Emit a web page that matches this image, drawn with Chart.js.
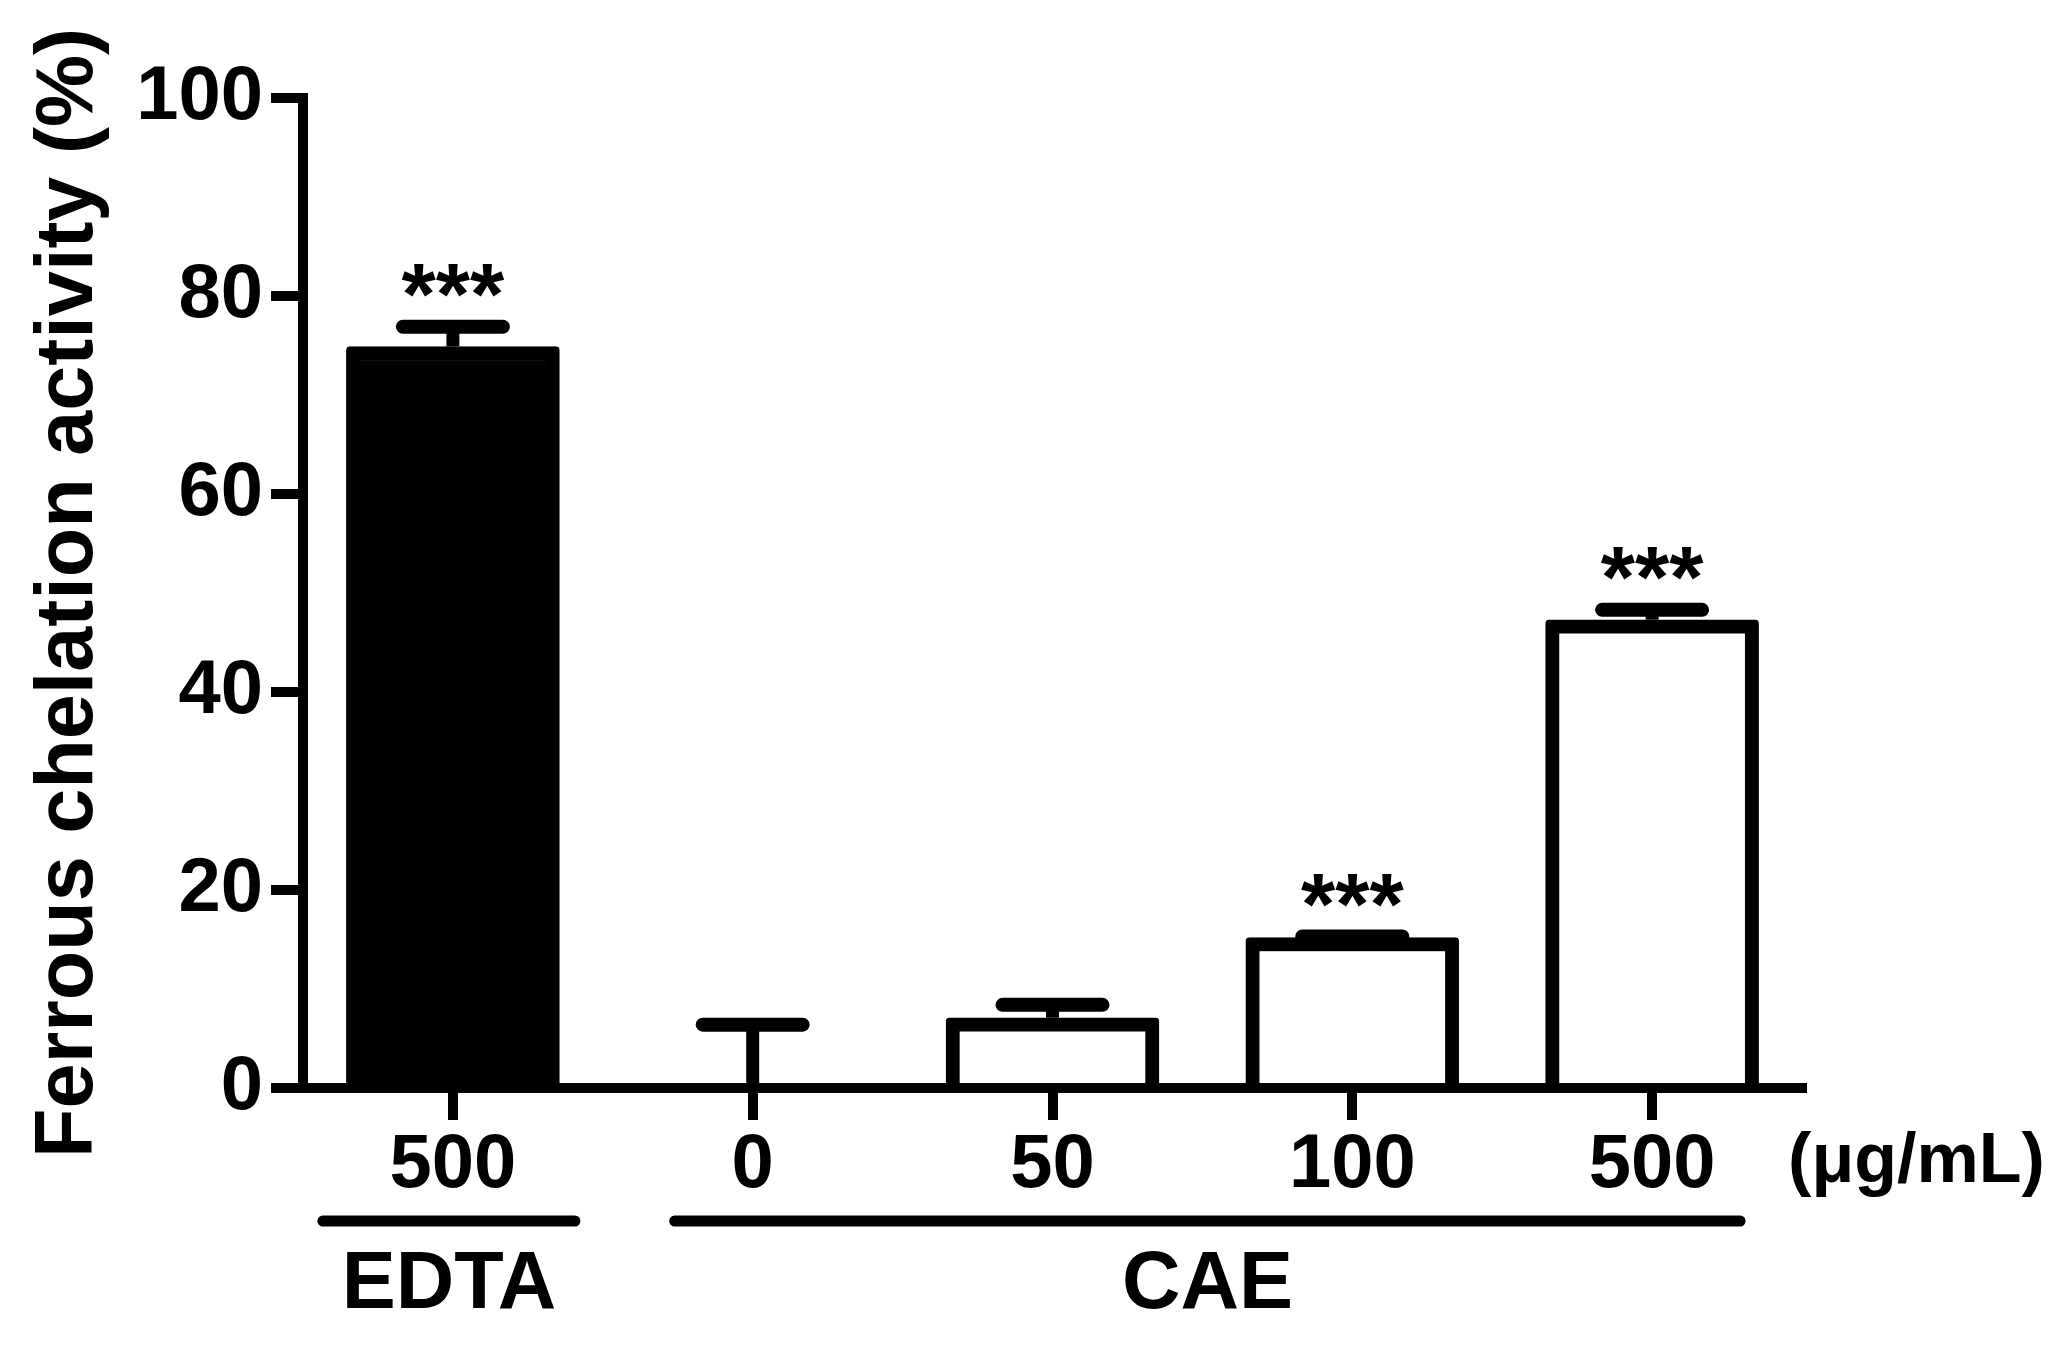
<!DOCTYPE html>
<html>
<head>
<meta charset="utf-8">
<script src="https://cdn.jsdelivr.net/npm/chart.js@4.4.0/dist/chart.umd.min.js"></script>
<style>
  html, body { margin: 0; padding: 0; background: #fff; }
  #wrap { width: 2057px; height: 1345px; position: relative; }
</style>
</head>
<body>
<div id="wrap"><canvas id="myChart"></canvas></div>
<script>
// data
var labels = ['500', '0', '50', '100', '500'];
var means = [74.9, 0, 7.1, 15.2, 47.3];
var sems = [2.0, 6.4, 1.3, 0.1, 1.0];
var stars = ['***', '', '', '***', '***'];
var fills = ['#000000', '#ffffff', '#ffffff', '#ffffff', '#ffffff'];
var groupNames = ['EDTA', 'CAE'];
var groupFirst = [0, 1];
var groupLast = [0, 4];
var yTicks = [0, 20, 40, 60, 80, 100];
var unitLabel = '(\u03bcg/mL)';
var yTitle = 'Ferrous chelation activity (%)';

var FONT = '"Liberation Sans", Arial, Helvetica, sans-serif';

// error bars, stars, group lines and labels
var extras = {
  id: 'extras',
  afterDatasetsDraw: function(chart) {
    var ctx = chart.ctx;
    var xs = chart.scales.x, ys = chart.scales.y;
    var bottom = chart.chartArea.bottom;
    ctx.save();
    ctx.strokeStyle = '#000';
    ctx.fillStyle = '#000';
    for (var i = 0; i < means.length; i++) {
      var px = xs.getPixelForValue(i);
      var yb = ys.getPixelForValue(means[i]);
      var yt = ys.getPixelForValue(means[i] + sems[i]);
      ctx.lineWidth = 13;
      ctx.lineCap = 'butt';
      ctx.beginPath();
      ctx.moveTo(px, yb);
      ctx.lineTo(px, yt);
      ctx.stroke();
      ctx.lineWidth = 14;
      ctx.lineCap = 'round';
      ctx.beginPath();
      ctx.moveTo(px - 50, yt);
      ctx.lineTo(px + 50, yt);
      ctx.stroke();
      if (stars[i]) {
        ctx.font = 'bold 88px ' + FONT;
        ctx.textAlign = 'center';
        ctx.textBaseline = 'alphabetic';
        ctx.fillText(stars[i], px, yt - 3);
      }
    }

    // group underlines
    var lineL = [-130, -78];
    var lineR = [122, 88];
    ctx.lineWidth = 11;
    ctx.lineCap = 'round';
    ctx.font = 'bold 81px ' + FONT;
    ctx.textAlign = 'center';
    ctx.textBaseline = 'middle';
    for (var g = 0; g < groupNames.length; g++) {
      var x1 = xs.getPixelForValue(groupFirst[g]) + lineL[g];
      var x2 = xs.getPixelForValue(groupLast[g]) + lineR[g];
      ctx.beginPath();
      ctx.moveTo(x1, bottom + 133);
      ctx.lineTo(x2, bottom + 133);
      ctx.stroke();
      ctx.fillText(groupNames[g], (x1 + x2) / 2, bottom + 198);
    }

    // unit
    ctx.font = 'bold 70px ' + FONT;
    ctx.textAlign = 'left';
    ctx.fillText(unitLabel, xs.getPixelForValue(labels.length - 1) + 136, bottom + 75);
    ctx.restore();
  }
};

var chartdata = {
  labels: labels,
  datasets: [
    {
      data: means,
      backgroundColor: fills,
      borderColor: '#000000',
      borderWidth: 14,
      borderRadius: 4,
      barThickness: 213
    }
  ]
};

var graphTarget = document.getElementById('myChart');
var barGraph = new Chart(graphTarget, {
  type: 'bar',
  data: chartdata,
  plugins: [extras],
  options: {
    responsive: true,
    maintainAspectRatio: false,
    animation: false,
    devicePixelRatio: 1,
    layout: { padding: { top: 98, right: 255, left: 0, bottom: 0 } },
    plugins: { legend: { display: false }, tooltip: { enabled: false } },
    scales: {
      x: {
        offset: true,
        afterFit: function(s) { s.height = 257; },
        grid: { offset: false, drawOnChartArea: false, drawTicks: true, tickLength: 32, tickWidth: 10, tickColor: '#000', color: '#000', lineWidth: 10 },
        border: { display: true, color: '#000', width: 10, z: 1 },
        ticks: { color: '#000', padding: 0, maxRotation: 0, font: { family: FONT, size: 76, weight: 'bold' } }
      },
      y: {
        min: yTicks[0],
        max: yTicks[yTicks.length - 1],
        afterFit: function(s) { s.width = 303; },
        ticks: { stepSize: yTicks[1] - yTicks[0], color: '#000', padding: 8, font: { family: FONT, size: 76, weight: 'bold' } },
        grid: { drawOnChartArea: false, drawTicks: true, tickLength: 32, tickWidth: 10, tickColor: '#000', color: '#000', lineWidth: 10 },
        border: { display: true, color: '#000', width: 10, z: 1 },
        title: { display: true, text: yTitle, color: '#000', padding: { top: 21, bottom: 0 }, font: { family: FONT, size: 81, weight: 'bold', lineHeight: 1.2 } }
      }
    }
  }
});
</script>
</body>
</html>
